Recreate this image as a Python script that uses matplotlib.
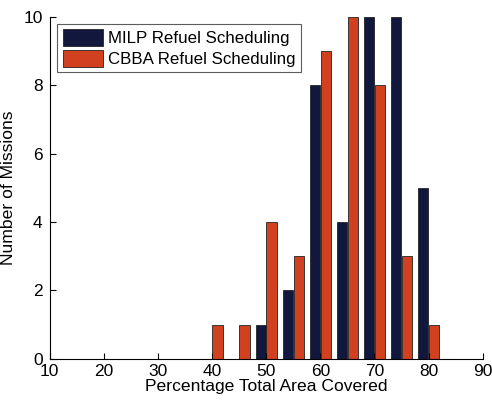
import matplotlib
matplotlib.use("Agg")
import matplotlib.pyplot as plt
import numpy as np

plt.rcParams['font.family'] = ['Liberation Sans', 'DejaVu Sans']

# bin centres (percentage total area covered)
centers = [40, 45, 50, 55, 60, 65, 70, 75, 80]
milp = [0, 0, 1, 2, 8, 4, 10, 10, 5]
cbba = [1, 1, 4, 3, 9, 10, 8, 3, 1]

navy = '#12173d'
red = '#d2411f'

fig = plt.figure(figsize=(4.92, 4.01), dpi=100)
ax = fig.add_axes([0.101, 0.105, 0.880, 0.853])

x = np.array(centers)
w = 1.9
ax.bar(x - 1, milp, width=w, color=navy, edgecolor='#222222', linewidth=0.6,
       label='MILP Refuel Scheduling')
ax.bar(x + 1, cbba, width=w, color=red, edgecolor='#222222', linewidth=0.6,
       label='CBBA Refuel Scheduling')

ax.set_xlim(10, 90)
ax.set_ylim(0, 10)
ax.set_xticks(range(10, 91, 10))
ax.set_yticks(range(0, 11, 2))
ax.tick_params(direction='in', labelsize=12.5, length=4, width=0.8)
ax.tick_params(axis='x', pad=4)
ax.tick_params(axis='y', pad=5)
ax.spines['top'].set_visible(False)
ax.spines['right'].set_visible(False)

ax.set_xlabel('Percentage Total Area Covered', fontsize=12.6, labelpad=0)
ax.set_ylabel('Number of Missions', fontsize=12.6, labelpad=5)

leg = ax.legend(loc='upper left', bbox_to_anchor=(0.018, 0.98), fontsize=12.2,
                frameon=True, fancybox=False, edgecolor='#333333',
                handlelength=2.4, handleheight=1.2, handletextpad=0.3,
                borderpad=0.3, labelspacing=0.2, borderaxespad=0)
leg.get_frame().set_linewidth(0.8)

fig.savefig('out.png', dpi=100)
